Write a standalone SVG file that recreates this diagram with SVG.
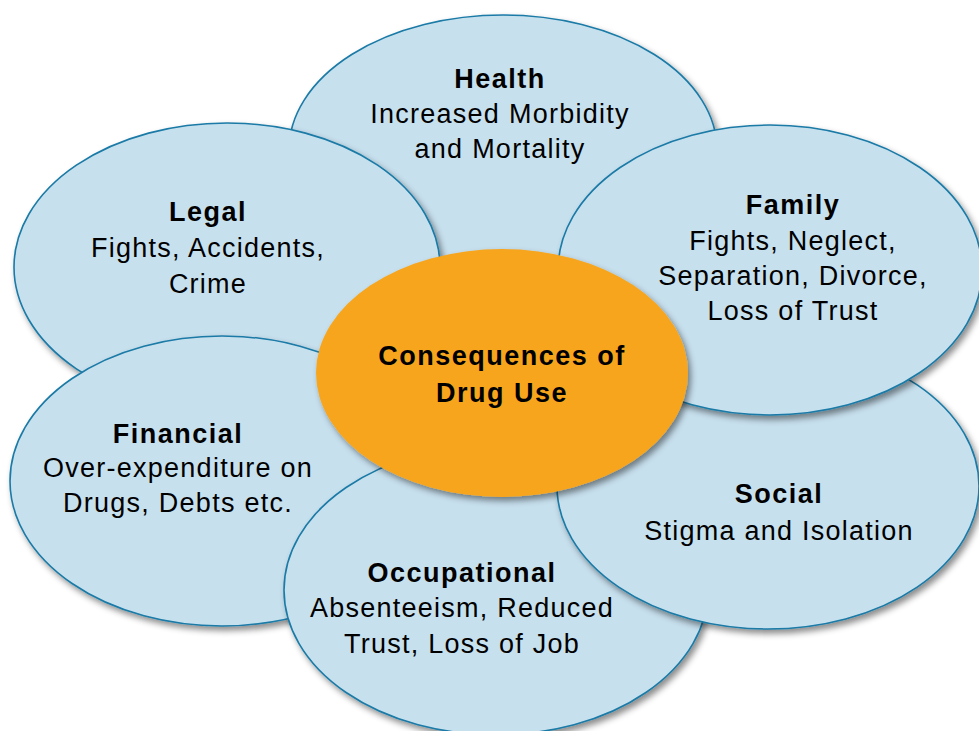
<svg xmlns="http://www.w3.org/2000/svg" width="979" height="731" viewBox="0 0 979 731">
<defs>
<filter id="sh" x="-10%" y="-10%" width="125%" height="125%">
<feDropShadow dx="3" dy="4" stdDeviation="3" flood-color="#000" flood-opacity="0.45"/>
</filter>
<style>
.pet{fill:#c7e0ee;stroke:#1a7aa6;stroke-width:1.6;filter:url(#sh)}
.ctr{fill:#f7a51f;stroke:none;filter:url(#sh)}
text{font-family:"Liberation Sans",Arial,Helvetica,sans-serif;font-size:27px;fill:#000;text-anchor:middle;letter-spacing:1.25px}
.t{font-weight:bold;letter-spacing:1.5px}
</style>
</defs>
<g id="connectors"></g>
<g id="health">
<ellipse class="pet" cx="503" cy="150" rx="214" ry="135"/>
<text x="500" y="88" class="t">Health</text>
<text x="500" y="123">Increased Morbidity</text>
<text x="500" y="158">and Mortality</text>
</g>
<g id="legal">
<ellipse class="pet" cx="227" cy="267" rx="213" ry="144"/>
<text x="208" y="221" class="t">Legal</text>
<text x="208" y="257">Fights, Accidents,</text>
<text x="208" y="293">Crime</text>
</g>
<g id="financial">
<ellipse class="pet" cx="222" cy="481" rx="212" ry="145"/>
<text x="178" y="443" class="t">Financial</text>
<text x="178" y="477">Over-expenditure on</text>
<text x="178" y="512">Drugs, Debts etc.</text>
</g>
<g id="occupational">
<ellipse class="pet" cx="496" cy="590" rx="212" ry="145"/>
<text x="462" y="582" class="t">Occupational</text>
<text x="462" y="617">Absenteeism, Reduced</text>
<text x="462" y="653">Trust, Loss of Job</text>
</g>
<g id="social">
<ellipse class="pet" cx="768" cy="486" rx="211" ry="143"/>
<text x="779" y="503" class="t">Social</text>
<text x="779" y="540">Stigma and Isolation</text>
</g>
<g id="family">
<ellipse class="pet" cx="770" cy="270" rx="212" ry="145"/>
<text x="793" y="214" class="t">Family</text>
<text x="793" y="250">Fights, Neglect,</text>
<text x="793" y="285">Separation, Divorce,</text>
<text x="793" y="320">Loss of Trust</text>
</g>
<g id="center">
<ellipse class="ctr" cx="502" cy="373" rx="186" ry="124"/>
<text x="502" y="365" class="t">Consequences of</text>
<text x="502" y="402" class="t">Drug Use</text>
</g>
</svg>
